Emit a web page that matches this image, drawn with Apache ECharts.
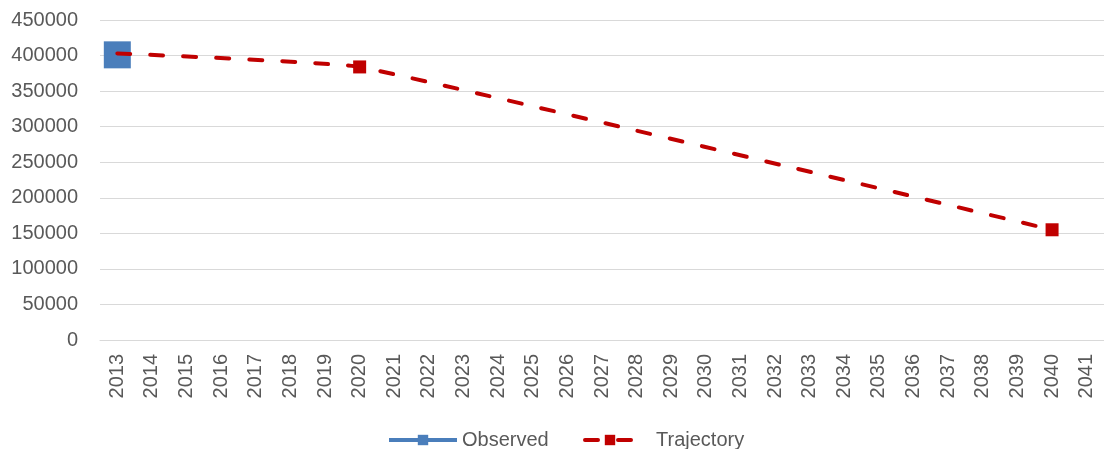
<!DOCTYPE html>
<html>
<head>
<meta charset="utf-8">
<script src="https://cdn.jsdelivr.net/npm/echarts@6/dist/echarts.min.js"></script>
<style>
  html, body { margin: 0; padding: 0; background: #fff; }
  #chart { width: 1104px; height: 449px; }
</style>
</head>
<body>
<div id="chart"></div>
<script>
// Years on the category axis
const years = [];
for (let y = 2013; y <= 2041; y++) years.push(String(y));

// Observed value (2013 only)
const observedYears = ['2013'];
const observedValues = [401000];

// Trajectory anchor points
const trajectoryYears = ['2013', '2020', '2040'];
const trajectoryValues = [403000, 384000, 155000];

// Y axis ticks
const yMin = 0, yMax = 450000, yStep = 50000;

const BLUE = '#4a7ebb';
const RED = '#c00000';
const TEXT = '#595959';
const FONT = 'Liberation Sans';

function toSeries(keys, vals) {
  return years.map(y => {
    const i = keys.indexOf(y);
    return i < 0 ? null : vals[i];
  });
}

const observedData = toSeries(observedYears, observedValues);
const trajectoryData = toSeries(trajectoryYears, trajectoryValues).map((v, i) =>
  (v !== null && i === 0) ? { value: v, symbol: 'none' } : v
);

const chart = echarts.init(document.getElementById('chart'));
chart.setOption({
  animation: false,
  grid: { left: 100, right: -4, top: 20, bottom: 109 },
  legend: [
    {
      data: ['Observed'],
      left: 387, top: 430, padding: 0,
      itemWidth: 68, itemHeight: 13, itemGap: 0,
      lineStyle: { width: 4 },
      textStyle: { color: TEXT, fontFamily: FONT, fontSize: 20 }
    },
    {
      data: ['Trajectory'],
      left: 583, top: 430, padding: 0,
      itemWidth: 50, itemHeight: 13, itemGap: 0,
      lineStyle: { width: 4 },
      textStyle: { color: TEXT, fontFamily: FONT, fontSize: 20, padding: [0, 0, 0, 16] }
    }
  ],
  xAxis: {
    type: 'category',
    data: years,
    boundaryGap: true,
    axisLine: { show: true, lineStyle: { color: '#d9d9d9', width: 1 } },
    axisTick: { show: false },
    axisLabel: {
      rotate: 90, interval: 0, margin: 14,
      color: TEXT, fontFamily: FONT, fontSize: 20
    }
  },
  yAxis: {
    type: 'value',
    min: yMin, max: yMax, interval: yStep,
    axisLine: { show: false },
    axisTick: { show: false },
    splitLine: { lineStyle: { color: '#d9d9d9', width: 1 } },
    axisLabel: {
      margin: 22, color: TEXT, fontFamily: FONT, fontSize: 20,
      formatter: v => String(v)
    }
  },
  series: [
    {
      name: 'Observed',
      type: 'line',
      data: observedData,
      symbol: 'rect',
      symbolSize: 27,
      itemStyle: { color: BLUE },
      lineStyle: { color: BLUE, width: 4 },
      z: 2
    },
    {
      name: 'Trajectory',
      type: 'line',
      data: trajectoryData,
      connectNulls: true,
      smooth: 0.1,
      symbol: 'rect',
      symbolSize: 13,
      itemStyle: { color: RED },
      lineStyle: { color: RED, width: 4, type: [13, 20], cap: 'round' },
      z: 3
    }
  ]
});
</script>
</body>
</html>
